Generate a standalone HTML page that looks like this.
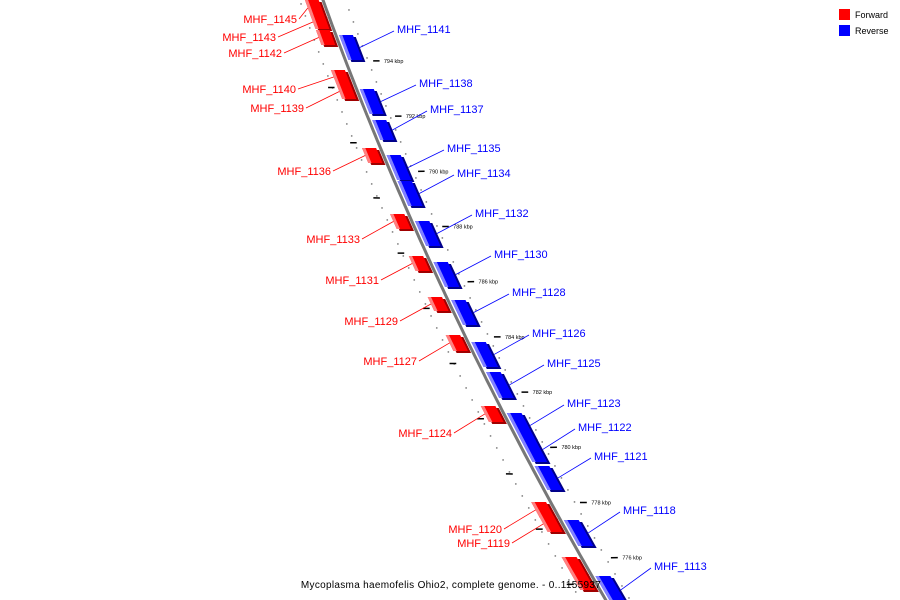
<!DOCTYPE html>
<html><head><meta charset="utf-8"><style>
body{margin:0;background:#fff;}
svg{display:block;font-family:"Liberation Sans",sans-serif;}
</style></head><body>
<svg id="map" width="900" height="600" viewBox="0 0 900 600">
<g id="dots"></g>
<path id="backbone" fill="none" stroke="#777" stroke-width="3"></path>
<g id="ticks"></g>
<g id="feats"></g>
<g id="labels"></g>
<g>
<rect x="839" y="9" width="11" height="11" fill="#f00"/>
<text x="855" y="18" font-size="9">Forward</text>
<rect x="839" y="25" width="11" height="11" fill="#00f"/>
<text x="855" y="34" font-size="9">Reverse</text>
</g>
<text x="451" y="588" font-size="10" text-anchor="middle" letter-spacing="0.3">Mycoplasma haemofelis Ohio2, complete genome. - 0..1155937</text>
</svg>
<script>
const fwdNames=["MHF_1145","MHF_1143","MHF_1142","MHF_1140","MHF_1139","MHF_1136","MHF_1133","MHF_1131","MHF_1129","MHF_1127","MHF_1124","MHF_1120","MHF_1119","",""];
const fwdStart=[0,15,30,70,84,148,214,256,297,335,406,502,516,557,572];
const fwdEnd=[16,29,45,84,99,163,229,271,311,351,422,518,532,573,590];
const fwdLabelX=[297,276,282,296,304,331,360,379,398,417,452,502,510,0,0];
const fwdLabelY=[23,41,57,93,112,175,243,284,325,365,437,533,547,0,0];
const revNames=["MHF_1141","MHF_1138","MHF_1137","MHF_1135","MHF_1134","MHF_1132","MHF_1130","MHF_1128","MHF_1126","MHF_1125","MHF_1123","MHF_1122","MHF_1121","MHF_1118","MHF_1113"];
const revStart=[35,89,120,155,181,221,262,300,342,372,413,437,466,520,576];
const revEnd=[60,114,140,180,206,246,287,325,367,398,438,462,490,546,604];
const revLabelX=[397,419,430,447,457,475,494,512,532,547,567,578,594,623,654];
const revLabelY=[33,87,113,152,177,217,258,296,337,367,407,431,460,514,570];
const kbpTicks=[794,792,790,788,786,784,782,780,778,776];
const NS="http://www.w3.org/2000/svg";
function X(y){return 323+0.361*y+0.000184*y*y;}
function P(y,v){
  const s0=0.361+0.000368*y;const L0=Math.hypot(1,s0);
  const yb=y+v*s0/L0;
  const s=0.361+0.000368*yb;const L=Math.hypot(1,s);
  return [X(yb)+v/L,yb-v*s/L];
}
function kY(k){return 60+(794-k)*27.6;}
function mk(tag,parent,attrs){const e=document.createElementNS(NS,tag);for(const k in attrs)e.setAttribute(k,attrs[k]);document.getElementById(parent).appendChild(e);return e;}
function quad(y0,y1,v0,v1){const a=P(y0,v0),b=P(y0,v1),c=P(y1,v1),d=P(y1,v0);return [a,b,c,d].map(p=>p[0].toFixed(1)+","+p[1].toFixed(1)).join(" ");}
let d="";for(let y=-5;y<=605;y+=5){d+=(y<0?"M":"L")+X(y).toFixed(1)+","+y;}
document.getElementById("backbone").setAttribute("d",d);
for(let y=4;y<600;y+=12){
  let p=P(y,-22);let e=mk("circle","dots",{cx:p[0],cy:p[1],r:0.9,fill:"#888"});
  
  
  p=P(y+6,21);e=mk("circle","dots",{cx:p[0],cy:p[1],r:0.9,fill:"#888"});
  
  
}
kbpTicks.forEach(k=>{
  const y=kY(k);const a=P(y,26),b=P(y,32);
  let e=mk("line","ticks",{x1:a[0],y1:a[1]+1,x2:b[0],y2:b[1]+1,stroke:"#000","stroke-width":1.5});
  
  
  const t=P(y,36);
  e=mk("text","ticks",{x:t[0],y:t[1]+3,"font-size":5.5,fill:"#000"});
  e.textContent=k+" kbp";
  
  
  const y2=kY(k-1);const c=P(y2,-20),f=P(y2,-26);
  e=mk("line","ticks",{x1:c[0],y1:c[1],x2:f[0],y2:f[1],stroke:"#000","stroke-width":1.5});
  
  
});
function feature(y0,y1,v0,v1,main,light,dark,name){
  let e=mk("polygon","feats",{points:quad(y0+2,y1+2,v0+2,v1+2),fill:dark});
  
  
  e=mk("polygon","feats",{points:quad(y0,y1,v0,v1),fill:main});
  
  
  e=mk("polygon","feats",{points:quad(y0,y1,v0,v0+3),fill:light});
  
  
}
fwdNames.forEach((n,i)=>{
  feature(fwdStart[i],fwdEnd[i],-17,-4,"#f00","#ff8080","#a00000",n?("gene-"+n.toLowerCase()):"gene-forward");
  if(n){
    const m=P((fwdStart[i]+fwdEnd[i])/2,-17);
    let e=mk("line","labels",{x1:fwdLabelX[i]+2,y1:fwdLabelY[i]-4,x2:m[0],y2:m[1],stroke:"#f00","stroke-width":0.8});
    
    
    e=mk("text","labels",{x:fwdLabelX[i],y:fwdLabelY[i],"font-size":11,fill:"#f00","text-anchor":"end"});
    e.textContent=n;
    
    
  }
});
revNames.forEach((n,i)=>{
  feature(revStart[i],revEnd[i],3,16,"#00f","#8080ff","#00008a","gene-"+n.toLowerCase());
  const m=P((revStart[i]+revEnd[i])/2,18);
  let e=mk("line","labels",{x1:revLabelX[i]-3,y1:revLabelY[i]-2,x2:m[0],y2:m[1],stroke:"#00f","stroke-width":0.8});
  
  
  e=mk("text","labels",{x:revLabelX[i],y:revLabelY[i],"font-size":11,fill:"#00f"});
  e.textContent=n;
  
  
});
</script>
</body></html>
